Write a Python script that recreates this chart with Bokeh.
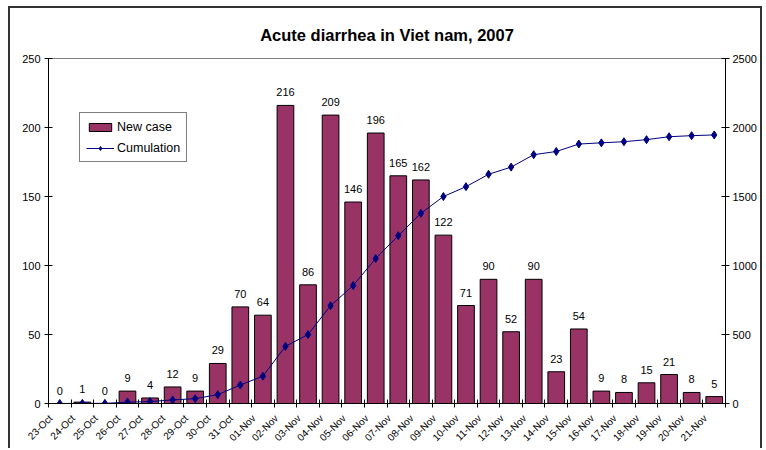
import math
from bokeh.plotting import figure
from bokeh.models import (Range1d, LinearAxis, FixedTicker, ColumnDataSource, LabelSet,
                          Legend, LegendItem, SingleIntervalTicker)
from bokeh.core.properties import value
from bokeh.embed import file_html
from bokeh.resources import INLINE

dates = ["23-Oct", "24-Oct", "25-Oct", "26-Oct", "27-Oct", "28-Oct", "29-Oct", "30-Oct", "31-Oct",
         "01-Nov", "02-Nov", "03-Nov", "04-Nov", "05-Nov", "06-Nov", "07-Nov", "08-Nov", "09-Nov",
         "10-Nov", "11-Nov", "12-Nov", "13-Nov", "14-Nov", "15-Nov", "16-Nov", "17-Nov", "18-Nov",
         "19-Nov", "20-Nov", "21-Nov"]
new_case = [0, 1, 0, 9, 4, 12, 9, 29, 70, 64, 216, 86, 209, 146, 196, 165, 162, 122,
            71, 90, 52, 90, 23, 54, 9, 8, 15, 21, 8, 5]
cumulation = [0, 1, 1, 10, 14, 26, 35, 64, 134, 198, 414, 500, 709, 855, 1051, 1216, 1378, 1500,
              1571, 1661, 1713, 1803, 1826, 1880, 1889, 1897, 1912, 1933, 1941, 1946]

FONT = "Liberation Sans"
xs = list(range(len(dates)))
src = ColumnDataSource(dict(x=xs, cases=new_case, cum=cumulation, lbl=[str(v) for v in new_case]))

p = figure(width=750, height=442, output_backend="svg", toolbar_location=None,
           x_range=Range1d(-0.5, len(dates) - 0.5), y_range=Range1d(0, 250),
           min_border_left=38, min_border_right=35, min_border_top=50, min_border_bottom=47,
           title="Acute diarrhea in Viet nam, 2007",
           styles={"margin-left": "10px", "margin-top": "8px",
                   "box-shadow": "-2px -2px 0 0 #333333, 2px -2px 0 0 #333333"})
p.extra_y_ranges = {"right": Range1d(0, 2500)}
p.grid.visible = False
p.outline_line_color = "#808080"
p.background_fill_color = "white"
p.border_fill_color = "white"

p.title.align = "center"
p.title.vertical_align = "middle"
p.title.text_font = FONT
p.title.text_font_size = "16.5px"
p.title.text_font_style = "bold"
p.title.text_color = "black"
p.title.standoff = 28

bars = p.vbar(x="x", top="cases", width=0.74, source=src, fill_color="#993366",
              line_color="black", line_width=1)
line = p.line(x="x", y="cum", source=src, y_range_name="right", line_color="#000080", line_width=1)
pts = p.scatter(x="x", y="cum", source=src, y_range_name="right", marker="diamond", size=8,
                fill_color="#000080", line_color="#000080")

labels = LabelSet(x="x", y="cases", text="lbl", source=src, y_offset=9, text_align="center",
                  text_baseline="alphabetic", text_font=value(FONT), text_font_size=value("11px"),
                  text_color="black")
p.add_layout(labels)

# x axis: tick marks between categories, rotated labels anchored slightly left of centre
label_pos = [round(i - 0.4, 2) for i in xs]
xa = p.xaxis[0]
xa.ticker = FixedTicker(ticks=label_pos, minor_ticks=[i - 0.5 for i in range(len(dates) + 1)])
xa.major_label_overrides = {pos: d for pos, d in zip(label_pos, dates)}
xa.major_tick_in = 0
xa.major_tick_out = 0
xa.minor_tick_in = 4
xa.minor_tick_out = 4
xa.minor_tick_line_color = "black"
xa.major_label_orientation = math.pi / 4
xa.major_label_text_font = FONT
xa.major_label_text_font_size = "10px"
xa.major_label_text_color = "black"
xa.major_label_standoff = 9
xa.axis_line_color = "black"

ya = p.yaxis[0]
ya.ticker = SingleIntervalTicker(interval=50)
ya.major_tick_in = 4
ya.major_tick_out = 4
ya.major_tick_line_color = "black"
ya.minor_tick_line_color = None
ya.major_label_standoff = 4
ya.major_label_text_font = FONT
ya.major_label_text_font_size = "11px"
ya.major_label_text_color = "black"
ya.axis_line_color = "black"

ra = LinearAxis(y_range_name="right", ticker=SingleIntervalTicker(interval=500))
ra.major_tick_in = 4
ra.major_tick_out = 4
ra.major_tick_line_color = "black"
ra.minor_tick_line_color = None
ra.major_label_standoff = 3
ra.major_label_text_font = FONT
ra.major_label_text_font_size = "11px"
ra.major_label_text_color = "black"
ra.axis_line_color = "black"
p.add_layout(ra, "right")

legend = Legend(items=[LegendItem(label="New case", renderers=[bars]),
                       LegendItem(label="Cumulation", renderers=[line, pts])],
                location=(31, 241))
legend.border_line_color = "black"
legend.border_line_width = 1
legend.background_fill_color = "white"
legend.background_fill_alpha = 1
legend.label_text_font = FONT
legend.label_text_font_size = "12.5px"
legend.label_text_color = "black"
legend.glyph_width = 28
legend.glyph_height = 10
legend.label_standoff = 3
legend.padding = 6
legend.spacing = 6
legend.label_height = 15
legend.margin = 0
p.add_layout(legend)

open("out.html", "w").write(file_html(p, INLINE))
